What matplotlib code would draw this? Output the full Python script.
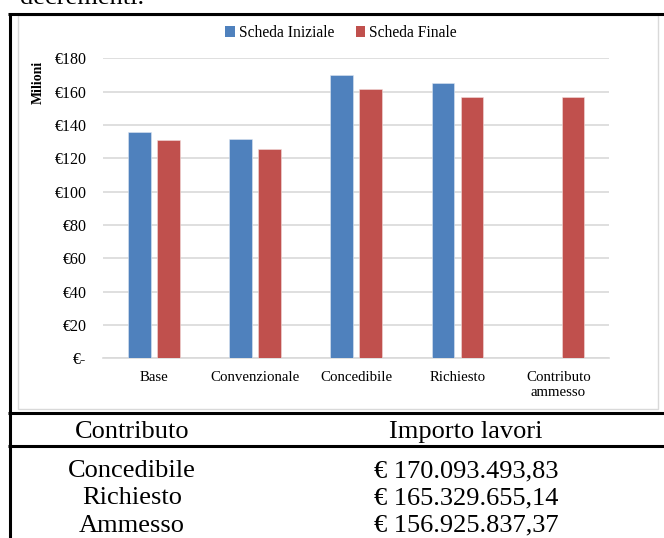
import numpy as np
import matplotlib
matplotlib.use("Agg")
import matplotlib.pyplot as plt
from matplotlib.lines import Line2D
from matplotlib.patches import Rectangle, Patch

plt.rcParams['font.family'] = ['Liberation Serif', 'DejaVu Serif']

# Chart data (millions of euro)
categories = ["Base", "Convenzionale", "Concedibile", "Richiesto", "Contributo\nammesso"]
scheda_iniziale = [136.0, 131.6, 170.09, 165.33, np.nan]
scheda_finale = [131.0, 125.6, 161.4, 157.0, 156.93]
y_ticks = [0, 20, 40, 60, 80, 100, 120, 140, 160, 180]
series_names = ["Scheda Iniziale", "Scheda Finale"]

# Summary table
table_header = ["Contributo", "Importo lavori"]
table_rows = [
    ["Concedibile", "€ 170.093.493,83"],
    ["Richiesto", "€ 165.329.655,14"],
    ["Ammesso", "€ 156.925.837,37"],
]

W, H = 664, 538
BLUE = "#4F81BD"
RED = "#C0504D"
GRID = "#D9D9D9"

fig = plt.figure(figsize=(W / 100, H / 100), dpi=100)


def fx(px):
    return px / W


def fy(py):
    return 1 - py / H


# Chart area
ax = fig.add_axes([fx(103.3), fy(358.3), fx(609) - fx(103.3), fy(58.3) - fy(358.3)])
x = np.arange(len(categories))
bw = 0.222
off = 0.143
ax.bar(x - off, scheda_iniziale, bw, color=BLUE, edgecolor="#DCE6F2", linewidth=0.4, zorder=3)
ax.bar(x + off, scheda_finale, bw, color=RED, edgecolor="#F2DCDB", linewidth=0.4, zorder=3)
ax.set_xlim(-0.5, len(categories) - 0.5)
ax.set_ylim(0, 180)
ax.set_yticks(y_ticks)
ax.set_yticklabels(["€-" if v == 0 else f"€{v}" for v in y_ticks], fontsize=11.5)
ax.set_xticks(x)
ax.set_xticklabels(categories, fontsize=10.7, linespacing=1.25)
ax.tick_params(axis="both", length=0)
ax.tick_params(axis="y", pad=12)
ax.tick_params(axis="x", pad=9)
ax.grid(axis="y", color=GRID, linewidth=1.2, zorder=0)
for s in ["top", "left", "right"]:
    ax.spines[s].set_visible(False)
ax.spines["bottom"].set_color(GRID)
ax.spines["bottom"].set_linewidth(1.2)
ax.set_facecolor("none")

fig.text(fx(38), fy(82), "Milioni", rotation=90, fontsize=10, fontweight="bold",
         ha="center", va="center")

handles = [Patch(facecolor=BLUE), Patch(facecolor=RED)]
fig.legend(handles, series_names, loc="center", bbox_to_anchor=(fx(341), fy(33)),
           ncol=2, frameon=False, fontsize=11.2, handlelength=0.62, handleheight=0.62,
           handletextpad=0.25, columnspacing=1.4)

# Light border around the chart
fig.add_artist(Rectangle((fx(18), fy(409)), fx(658) - fx(18), fy(15) - fy(409),
                         transform=fig.transFigure, fill=False, edgecolor=GRID, linewidth=1))

# Frame and table rules
def hline(py, x0=8, x1=W, lw=2.2):
    fig.add_artist(Line2D([fx(x0), fx(x1)], [fy(py), fy(py)], transform=fig.transFigure,
                          color="black", linewidth=lw, solid_capstyle="butt"))


hline(14)
hline(413)
hline(445.5)
fig.add_artist(Line2D([fx(9.5), fx(9.5)], [fy(12.5), fy(H)], transform=fig.transFigure,
                      color="black", linewidth=2.2, solid_capstyle="butt"))

# Tail of the preceding paragraph
fig.text(fx(20), fy(4.5), "decrementi.", fontsize=19, ha="left", va="baseline")

col_x = [132, 466]
fig.text(fx(col_x[0]), fy(438), table_header[0], fontsize=19, ha="center", va="baseline")
fig.text(fx(col_x[1]), fy(438), table_header[1], fontsize=19, ha="center", va="baseline")
for i, (label, amount) in enumerate(table_rows):
    base = 477 + i * 27.3
    fig.text(fx(col_x[0]), fy(base), label, fontsize=19, ha="center", va="baseline")
    fig.text(fx(col_x[1]), fy(base), amount, fontsize=19, ha="center", va="baseline")

fig.savefig("out.png", dpi=100)
